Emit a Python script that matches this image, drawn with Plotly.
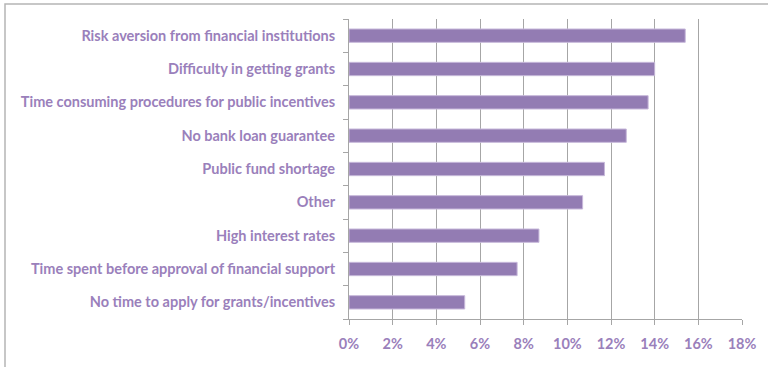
import plotly.graph_objects as go

# Obstacles to financing, share of respondents (%)
categories = [
    "Risk aversion from financial institutions",
    "Difficulty in getting grants",
    "Time consuming procedures for public incentives",
    "No bank loan guarantee",
    "Public fund shortage",
    "Other",
    "High interest rates",
    "Time spent before approval of financial support",
    "No time to apply for grants/incentives",
]
shares = [15.4, 14.0, 13.7, 12.7, 11.7, 10.7, 8.7, 7.7, 5.3]
x_ticks = [0, 2, 4, 6, 8, 10, 12, 14, 16, 18]
x_tick_labels = [f"{v}%" for v in x_ticks]

bar_color = "#937cb3"
text_color = "#9a80bb"
grid_color = "#a6a6a6"

fig = go.Figure(
    go.Bar(
        x=shares,
        y=categories,
        orientation="h",
        width=0.4,
        marker=dict(color=bar_color, line=dict(color="#c7b8da", width=1)),
        hoverinfo="x+y",
    )
)

fig.update_layout(
    width=768,
    height=367,
    margin=dict(l=349, r=26, t=19, b=48),
    paper_bgcolor="white",
    plot_bgcolor="white",
    showlegend=False,
    font=dict(family="Lato, 'Open Sans', sans-serif", color=text_color),
    xaxis=dict(
        range=[0, 18],
        tickvals=x_ticks,
        ticktext=x_tick_labels,
        showgrid=True,
        gridcolor=grid_color,
        gridwidth=1,
        showline=True,
        linecolor=grid_color,
        linewidth=1,
        ticks="outside",
        ticklen=5,
        tickcolor=grid_color,
        ticklabelstandoff=7,
        tickfont=dict(size=14.5, color=text_color, family="Lato, sans-serif", weight="bold"),
        zeroline=False,
        fixedrange=True,
    ),
    yaxis=dict(
        type="category",
        categoryorder="array",
        categoryarray=categories[::-1],
        tickson="boundaries",
        ticks="outside",
        ticklen=5,
        tickcolor=grid_color,
        showgrid=False,
        showline=True,
        linecolor=grid_color,
        linewidth=1,
        ticklabelstandoff=10,
        tickfont=dict(size=14.5, color=text_color, family="Lato, sans-serif", weight="bold"),
        fixedrange=True,
    ),
    shapes=[
        # outer chart frame
        dict(
            type="rect",
            xref="paper",
            yref="paper",
            x0=(5 - 349) / 393,
            x1=(772 - 349) / 393,
            y0=(319 - 372) / 300,
            y1=(319 - 4) / 300,
            line=dict(color="#b5b5b5", width=1.5),
            fillcolor="rgba(0,0,0,0)",
            layer="below",
        )
    ],
)

fig.write_html("out.html")
